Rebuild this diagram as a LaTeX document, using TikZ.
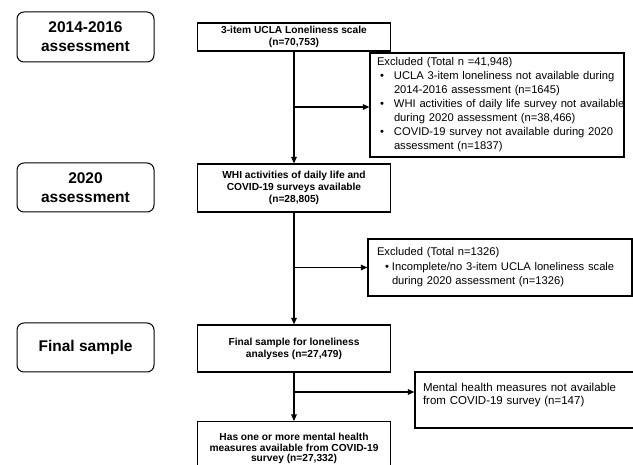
\documentclass[tikz,border=0pt]{standalone}
\usepackage{fontspec}
\setmainfont{Liberation Sans}
\usetikzlibrary{arrows.meta}
\begin{document}
\begin{tikzpicture}[x=1pt,y=-1pt,
  phase/.style={draw, rounded corners=7pt, line width=1pt, minimum width=137pt, inner sep=0pt, align=center, font=\fontsize{15.5}{19}\selectfont\bfseries},
  mainbox/.style={draw, line width=1.2pt, minimum width=193pt, inner sep=0pt, align=center, font=\fontsize{10.2}{12}\selectfont\bfseries},
  exbox/.style={draw, line width=1.2pt, inner ysep=0pt, align=left},
  flow/.style={line width=1.2pt, -{Triangle[length=6.5pt,width=5.5pt]}}
]
\useasboundingbox (0,0) rectangle (633,465);

% phase labels
\node[phase, minimum height=50pt] (l1) at (85.5,37) {2014-2016\\assessment};
\node[phase, minimum height=49pt] (l2) at (85.5,187.5) {2020\\assessment};
\node[phase, minimum height=49pt] (l3) at (85.5,347.5) {Final sample};

% main flow
\node[mainbox, minimum height=28pt] (b1) at (294,37) {3-item UCLA Loneliness scale\\(n=70,753)};
\node[mainbox, minimum height=48pt] (b2) at (294,188) {WHI activities of daily life and\\COVID-19 surveys available\\(n=28,805)};
\node[mainbox, minimum height=47pt] (b3) at (294,348.5) {Final sample for loneliness\\analyses (n=27,479)};
\node[mainbox, minimum height=54pt, anchor=north, font=\fontsize{10.2}{10.3}\selectfont\bfseries] (b4) at (294,421) {Has one or more mental health\\measures available from COVID-19\\survey (n=27,332)};

% exclusion boxes
\node[exbox, minimum width=254pt, minimum height=104pt, text width=240pt, inner xsep=7pt,
      font=\fontsize{11.2}{14}\selectfont] (e1) at (497,105)
  {\mbox{Excluded (Total n =41,948)}\\
   \mbox{\hspace*{3pt}\makebox[14pt][l]{•}UCLA 3-item loneliness not available during}\\
   \mbox{\hspace*{17pt}2014-2016 assessment (n=1645)}\\
   \mbox{\hspace*{3pt}\makebox[14pt][l]{•}WHI activities of daily life survey not available}\\
   \mbox{\hspace*{17pt}during 2020 assessment (n=38,466)}\\
   \mbox{\hspace*{3pt}\makebox[14pt][l]{•}COVID-19 survey not available during 2020}\\
   \mbox{\hspace*{17pt}assessment (n=1837)}};
\node[exbox, minimum width=264pt, minimum height=57pt, text width=246pt, inner xsep=9pt,
      font=\fontsize{11.2}{14.5}\selectfont] (e2) at (500,267.5)
  {\mbox{Excluded (Total n=1326)}\\
   \mbox{\hspace*{8pt}\makebox[7pt][l]{•}Incomplete/no 3-item UCLA loneliness scale}\\
   \mbox{\hspace*{15pt}during 2020 assessment (n=1326)}};
\node[exbox, minimum width=225pt, minimum height=56pt, text width=209pt, inner xsep=8pt,
      font=\fontsize{11.5}{13}\selectfont] (e3) at (527.5,400)
  {\mbox{Mental health measures not available}\\
   \mbox{from COVID-19 survey (n=147)}\\
   \rule{0pt}{1pt}};

% connectors
\coordinate (j1) at (294,107);
\coordinate (j3) at (294,392);
\draw[flow] (b1.south) -- (b2.north);
\draw[flow] (b2.south) -- (b3.north);
\draw[flow] (b3.south) -- (b4.north);
\draw[flow] (j1) -- (j1 -| e1.west);
\draw[flow] (b2.south |- e2.west) -- (e2.west);
\draw[flow] (j3) -- (j3 -| e3.west);
\end{tikzpicture}
\end{document}
